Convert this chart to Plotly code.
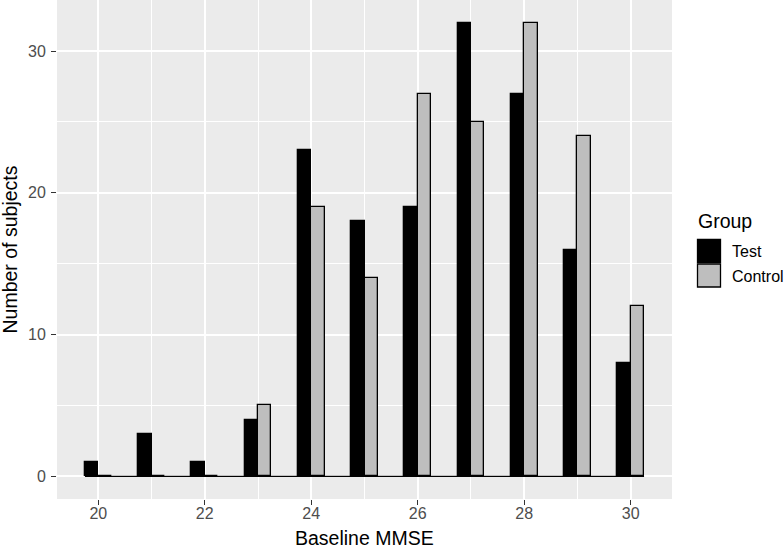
import plotly.graph_objects as go

mmse = [20, 21, 22, 23, 24, 25, 26, 27, 28, 29, 30]
test_counts = [1, 3, 1, 4, 23, 18, 19, 32, 27, 16, 8]
control_counts = [0, 0, 0, 5, 19, 14, 27, 25, 32, 24, 12]
groups = ["Test", "Control"]
group_colors = ["#000000", "#BEBEBE"]
x_ticks = [20, 22, 24, 26, 28, 30]
y_ticks = [0, 10, 20, 30]
x_title = "Baseline MMSE"
y_title = "Number of subjects"
legend_title = "Group"

W, H = 784, 546
ML, MR, MT, MB = 57, 112, 0, 47
PW, PH = W - ML - MR, H - MT - MB
bw = 0.25
FONT = "Liberation Sans, Arial, sans-serif"

fig = go.Figure()
for name, vals, col, off in [(groups[0], test_counts, group_colors[0], -bw),
                             (groups[1], control_counts, group_colors[1], 0.0)]:
    fig.add_trace(go.Bar(
        x=mmse, y=vals, name=name, width=bw, offset=off,
        marker=dict(color=col, line=dict(color="black", width=1.3)),
        showlegend=False,
    ))

# baseline formed by zero-height bars / bar bottoms
fig.add_shape(type="line", xref="x", yref="y",
              x0=min(mmse) - bw, x1=max(mmse) + bw, y0=0, y1=0,
              line=dict(color="black", width=1.3))

xlo, xhi = min(mmse) - bw, max(mmse) + bw
xpad = (xhi - xlo) * 0.05
ymax = max(max(test_counts), max(control_counts))
ypad = ymax * 0.05

def px2x(px):
    return (px - ML) / PW

def py2y(py):
    return (MT + PH - py) / PH

# axis titles
fig.add_annotation(text=x_title, xref="paper", yref="paper", x=0.5, y=py2y(537.5),
                   xanchor="center", yanchor="middle", showarrow=False,
                   font=dict(family=FONT, size=19.5, color="black"))
fig.add_annotation(text=y_title, xref="paper", yref="paper", x=px2x(9), y=0.5,
                   xanchor="center", yanchor="middle", showarrow=False, textangle=-90,
                   font=dict(family=FONT, size=19.5, color="black"))

# legend (ggplot style)
fig.add_annotation(text=legend_title, xref="paper", yref="paper", x=px2x(696), y=py2y(221),
                   xanchor="left", yanchor="middle", showarrow=False,
                   font=dict(family=FONT, size=19.5, color="black"))
for i, (name, col) in enumerate(zip(groups, group_colors)):
    top = 239 + i * 24.5
    fig.add_shape(type="rect", xref="paper", yref="paper",
                  x0=px2x(697.5), x1=px2x(720.5), y0=py2y(top + 0.5), y1=py2y(top + 23.5),
                  fillcolor=col, line=dict(color="black", width=1.3))
    fig.add_annotation(text=name, xref="paper", yref="paper", x=px2x(730), y=py2y(top + 12.5),
                       xanchor="left", yanchor="middle", showarrow=False,
                       font=dict(family=FONT, size=16, color="black"))

fig.update_layout(
    width=W, height=H,
    margin=dict(l=ML, r=MR, t=MT, b=MB, autoexpand=False),
    paper_bgcolor="white", plot_bgcolor="#EBEBEB",
    barmode="overlay", bargap=0,
    font=dict(family=FONT),
    showlegend=False,
)
fig.update_xaxes(
    range=[xlo - xpad, xhi + xpad], tickvals=x_ticks,
    showgrid=True, gridcolor="white", gridwidth=1.5, zeroline=False,
    ticks="outside", ticklen=5, tickwidth=1.1, tickcolor="#333333",
    tickfont=dict(family=FONT, size=16, color="#4D4D4D"), ticklabelstandoff=-5,
    minor=dict(tickvals=[v + 1 for v in x_ticks[:-1]], showgrid=True, gridcolor="white", gridwidth=0.7, ticks=""),
    showline=False, automargin=False,
)
fig.update_yaxes(
    range=[-ypad, ymax + ypad], tickvals=y_ticks,
    showgrid=True, gridcolor="white", gridwidth=1.5, zeroline=False,
    ticks="outside", ticklen=5, tickwidth=1.1, tickcolor="#333333",
    tickfont=dict(family=FONT, size=16, color="#4D4D4D"), ticklabelstandoff=2,
    minor=dict(tickvals=[v + 5 for v in y_ticks[:-1]], showgrid=True, gridcolor="white", gridwidth=0.7, ticks=""),
    showline=False, automargin=False,
)

fig.write_html("out.html", config={"displayModeBar": False},
               post_script="document.body.style.margin='0';document.body.style.overflow='hidden';")
